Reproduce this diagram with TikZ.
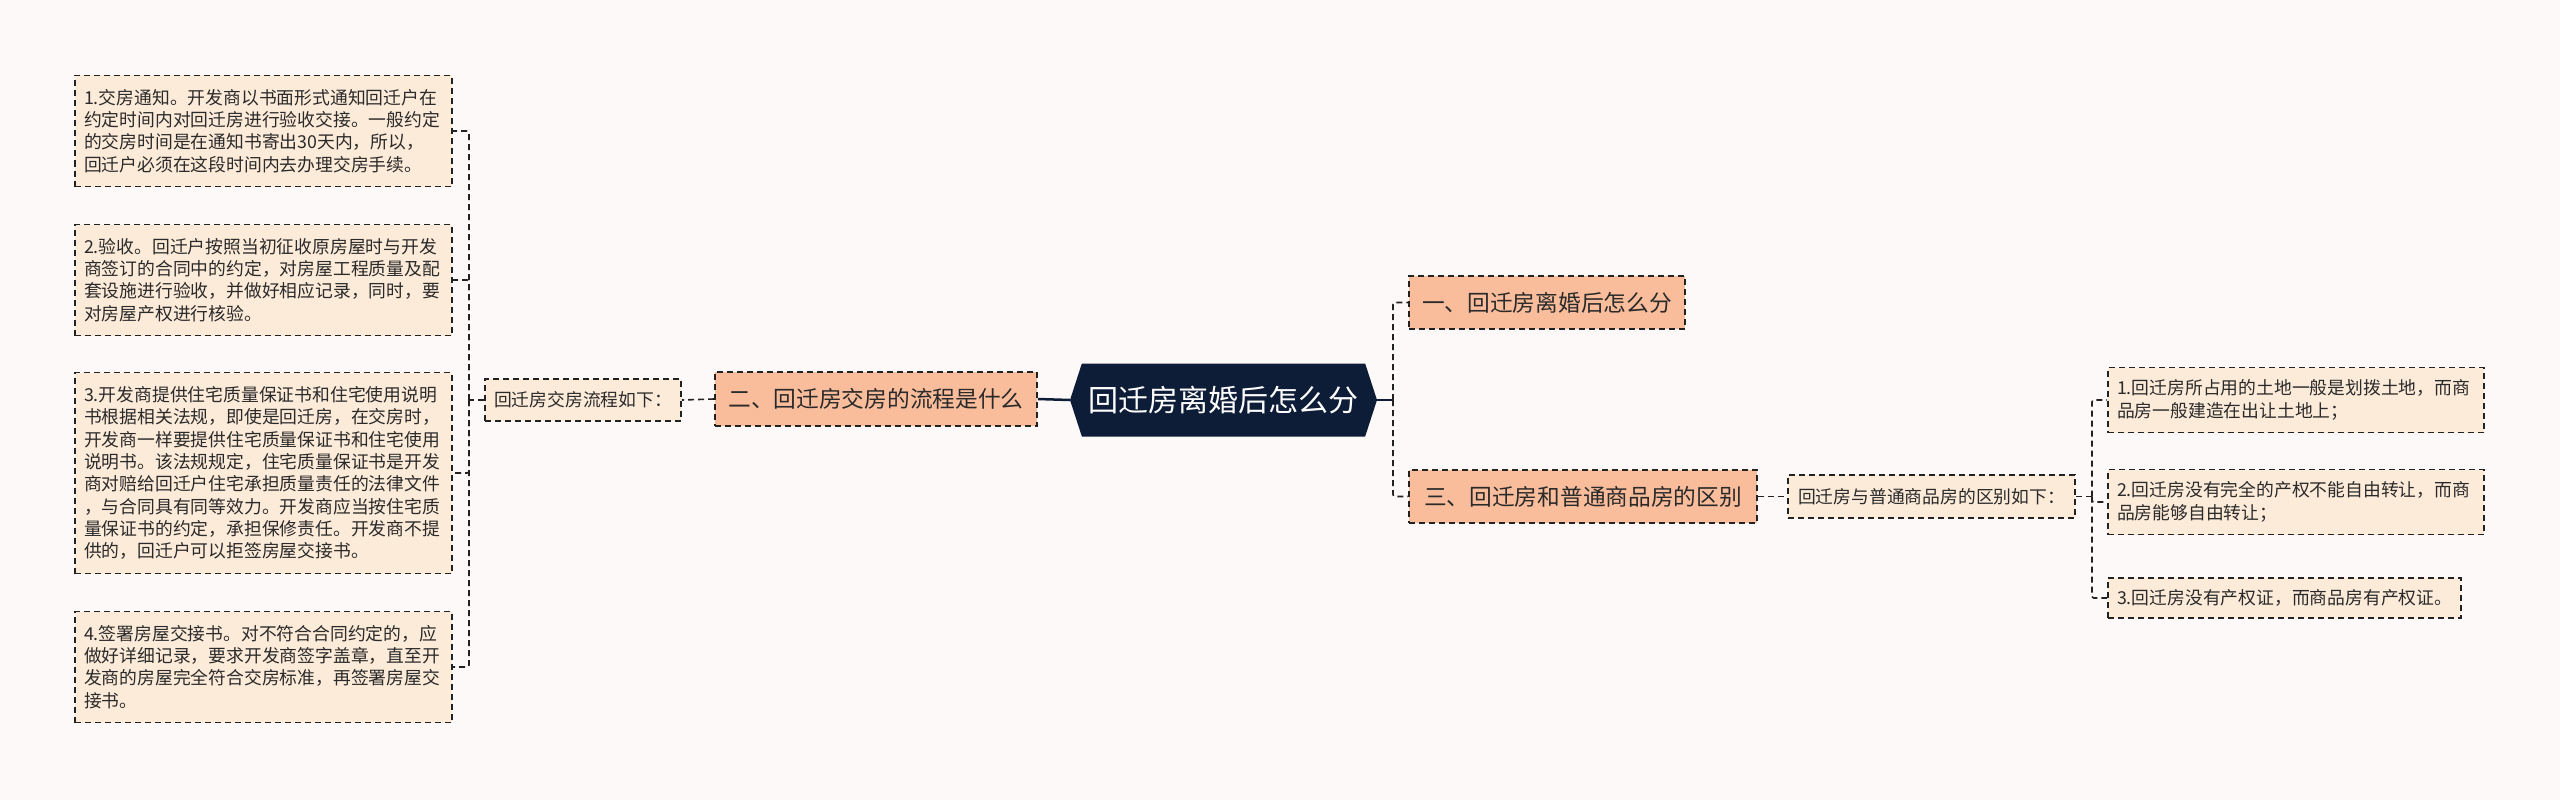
\documentclass[tikz,border=0pt]{standalone}
\usepackage{fontspec}
\usepackage{tikz}
\usetikzlibrary{shapes.symbols}
\newfontfamily\cjk{Noto Sans CJK SC}
\definecolor{bgcol}{HTML}{FCF9F8}
\definecolor{leafcol}{HTML}{FDEBD9}
\definecolor{branchcol}{HTML}{F9BD9C}
\definecolor{rootcol}{HTML}{0E1D37}
\definecolor{linecol}{HTML}{222222}
\definecolor{textcol}{HTML}{2A2A2A}

\begin{document}
\begin{tikzpicture}[x=1pt, y=-1pt,
        leaf/.style={draw=linecol, dash pattern=on 6pt off 4pt, line width=1.6pt, fill=leafcol, text=textcol, font=\cjk\fontsize{17.8}{22.3}\selectfont, align=left, inner xsep=9pt, inner ysep=0pt},
        branch/.style={draw=linecol, dash pattern=on 6pt off 4pt, line width=1.6pt, fill=branchcol, text=textcol, font=\cjk\fontsize{22.7}{28}\selectfont, inner sep=0pt},
        rootbox/.style={signal, signal to=west and east, signal pointer angle=144, fill=rootcol, text=white, font=\cjk\fontsize{30}{36}\selectfont, inner sep=0pt},
        conn/.style={draw=linecol, dash pattern=on 6pt off 4pt, line width=1.6pt, rounded corners=2pt},
        rootline/.style={draw=rootcol, line width=2.5pt}]
        \fill[bgcol] (0,0) rectangle (2560,800);

        \node (root) [rootbox, minimum width=307pt, minimum height=73pt] at (1223.5,400) {回迁房离婚后怎么分};

        \node (s1) [branch, minimum width=276pt, minimum height=53pt] at (1547,302.5) {一、回迁房离婚后怎么分};
        \node (s2) [branch, minimum width=322pt, minimum height=54pt] at (876,399) {二、回迁房交房的流程是什么};
        \node (s3) [branch, minimum width=348pt, minimum height=53pt] at (1583,496.5) {三、回迁房和普通商品房的区别};

        \node (flow) [leaf, minimum width=196pt, minimum height=42pt, align=center] at (583,400) {回迁房交房流程如下：};
        \node (diff) [leaf, minimum width=287pt, minimum height=43pt, align=center] at (1931.5,496.5) {回迁房与普通商品房的区别如下：};

        \node (b1) [leaf, text width=359pt, minimum height=111pt] at (263.5,131) {1.交房通知。开发商以书面形式通知回迁户在\\约定时间内对回迁房进行验收交接。一般约定\\的交房时间是在通知书寄出30天内，所以，\\回迁户必须在这段时间内去办理交房手续。};
        \node (b2) [leaf, text width=359pt, minimum height=111pt] at (263.5,280) {2.验收。回迁户按照当初征收原房屋时与开发\\商签订的合同中的约定，对房屋工程质量及配\\套设施进行验收，并做好相应记录，同时，要\\对房屋产权进行核验。};
        \node (b3) [leaf, text width=359pt, minimum height=201pt] at (263.5,473) {3.开发商提供住宅质量保证书和住宅使用说明\\书根据相关法规，即使是回迁房，在交房时，\\开发商一样要提供住宅质量保证书和住宅使用\\说明书。该法规规定，住宅质量保证书是开发\\商对赔给回迁户住宅承担质量责任的法律文件\\，与合同具有同等效力。开发商应当按住宅质\\量保证书的约定，承担保修责任。开发商不提\\供的，回迁户可以拒签房屋交接书。};
        \node (b4) [leaf, text width=359pt, minimum height=111pt] at (263.5,667) {4.签署房屋交接书。对不符合合同约定的，应\\做好详细记录，要求开发商签字盖章，直至开\\发商的房屋完全符合交房标准，再签署房屋交\\接书。};

        \node (r1) [leaf, text width=358pt, minimum height=65pt] at (2296,400) {1.回迁房所占用的土地一般是划拨土地，而商\\品房一般建造在出让土地上；};
        \node (r2) [leaf, text width=358pt, minimum height=65pt] at (2296,502) {2.回迁房没有完全的产权不能自由转让，而商\\品房能够自由转让；};
        \node (r3) [leaf, text width=335pt, minimum height=40pt] at (2284.5,598) {3.回迁房没有产权证，而商品房有产权证。};

        \coordinate (lj) at (469,400);
        \coordinate (rj) at (1393,400);
        \coordinate (qj) at (2092,496.5);

        \draw[rootline] (s2.east) -- (root.west);
        \draw[rootline] (root.east) -- (rj);
        \draw[conn] (rj) |- (s1.west);
        \draw[conn] (rj) |- (s3.west);
        \draw[conn] (s2.west) -- (flow.east);
        \draw[conn] (flow.west) -- (lj);
        \foreach \b in {b1,b2,b3,b4}
            \draw[conn] (lj) |- (\b.east);
        \draw[conn] (s3.east) -- (diff.west);
        \draw[conn] (diff.east) -- (qj);
        \foreach \r in {r1,r2,r3}
            \draw[conn] (qj) |- (\r.west);
    \end{tikzpicture}
\end{document}
